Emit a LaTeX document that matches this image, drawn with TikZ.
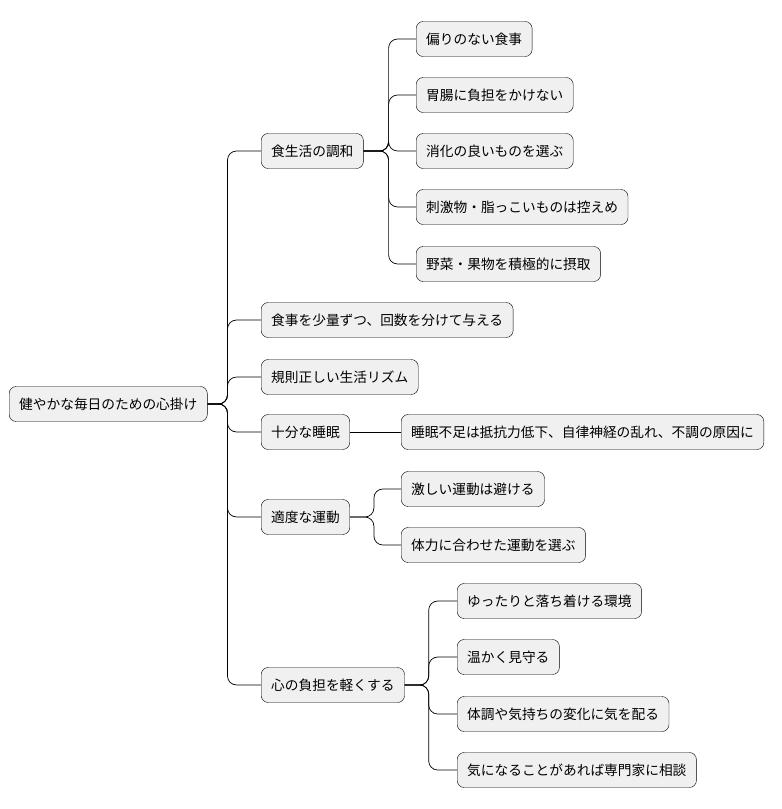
\documentclass[tikz,border=0pt]{standalone}
\usepackage{fontspec}
\setmainfont{Noto Sans CJK JP}
\begin{document}
\begin{tikzpicture}[x=1pt, y=-1pt,
  topic/.style={draw, fill=black!6, rounded corners=7pt, minimum height=35pt,
    inner xsep=10pt, anchor=west, font=\fontsize{13.7}{16}\selectfont},
  branch/.style={rounded corners=9pt, line width=0.7pt}]
  \useasboundingbox (0,0) rectangle (782,809);

  \node[topic] (root) at (9,404) {健やかな毎日のための心掛け};

  \node[topic] (diet) at (261,151) {食生活の調和};
  \node[topic] (meal) at (261,320) {食事を少量ずつ、回数を分けて与える};
  \node[topic] (rhythm) at (261,377) {規則正しい生活リズム};
  \node[topic] (sleep) at (261,432) {十分な睡眠};
  \node[topic] (exercise) at (261,517) {適度な運動};
  \node[topic] (mind) at (261,685) {心の負担を軽くする};

  \node[topic] (diet1) at (416,39) {偏りのない食事};
  \node[topic] (diet2) at (416,95) {胃腸に負担をかけない};
  \node[topic] (diet3) at (416,151) {消化の良いものを選ぶ};
  \node[topic] (diet4) at (416,207) {刺激物・脂っこいものは控えめ};
  \node[topic] (diet5) at (416,264) {野菜・果物を積極的に摂取};

  \node[topic] (sleep1) at (401,432) {睡眠不足は抵抗力低下、自律神経の乱れ、不調の原因に};

  \node[topic] (exercise1) at (401,489) {激しい運動は避ける};
  \node[topic] (exercise2) at (401,545) {体力に合わせた運動を選ぶ};

  \node[topic] (mind1) at (457,601) {ゆったりと落ち着ける環境};
  \node[topic] (mind2) at (457,657) {温かく見守る};
  \node[topic] (mind3) at (457,714) {体調や気持ちの変化に気を配る};
  \node[topic] (mind4) at (457,770) {気になることがあれば専門家に相談};

  \foreach \c in {diet, meal, rhythm, sleep, exercise, mind}
    \draw[branch] (root.east) -- ++(20,0) |- (\c.west);
  \foreach \c in {diet1, diet2, diet3, diet4, diet5}
    \draw[branch] (diet.east) -- ++(25,0) |- (\c.west);
  \draw[branch] (sleep.east) -- (sleep1.west);
  \foreach \c in {exercise1, exercise2}
    \draw[branch] (exercise.east) -- ++(24,0) |- (\c.west);
  \foreach \c in {mind1, mind2, mind3, mind4}
    \draw[branch] (mind.east) -- ++(24,0) |- (\c.west);
\end{tikzpicture}
\end{document}
